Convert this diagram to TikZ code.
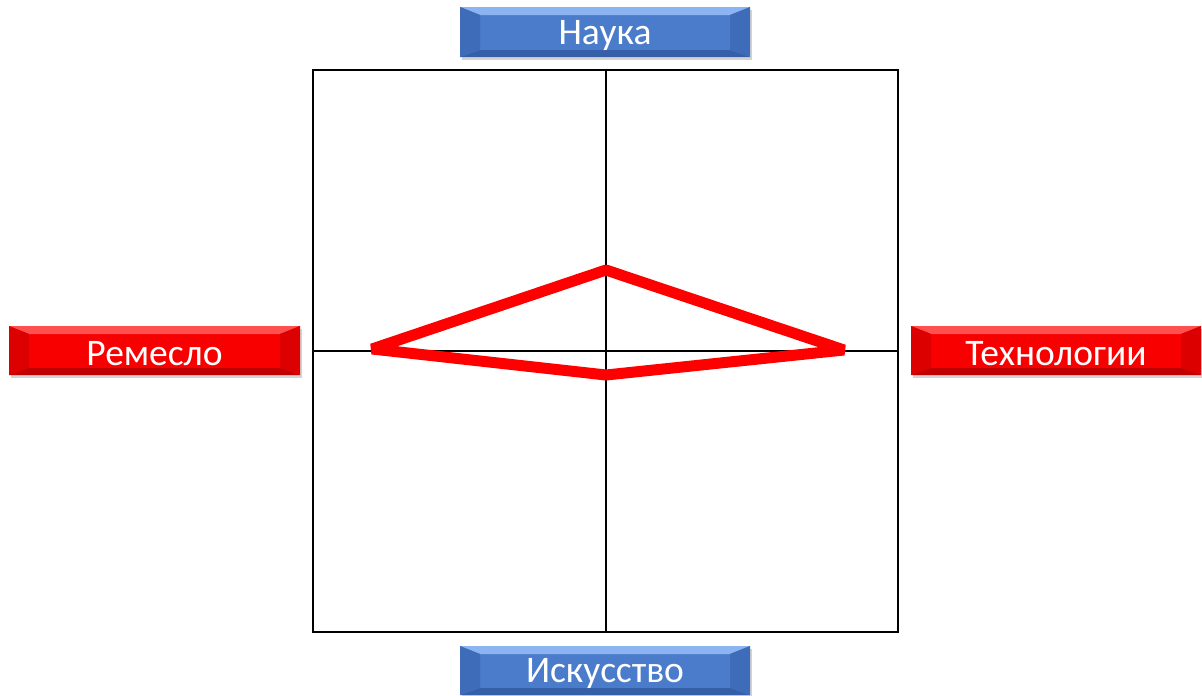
\documentclass[tikz,border=0pt]{standalone}
\usepackage{fontspec}
\setmainfont{Carlito}
\usetikzlibrary{shadows}
\definecolor{bface}{HTML}{4A7CCB}
\definecolor{btop}{HTML}{8CB4F2}
\definecolor{bside}{HTML}{3F6CB8}
\definecolor{bbot}{HTML}{3560A8}
\definecolor{rface}{HTML}{F80000}
\definecolor{rtop}{HTML}{FF5050}
\definecolor{rside}{HTML}{DC0000}
\definecolor{rbot}{HTML}{C00000}
\tikzset{
  gridline/.style={line width=2pt, black},
  redline/.style={line width=11pt, red, line join=bevel},
  lbl/.style={text=white, font=\fontsize{37.5}{42}\selectfont, inner sep=0pt},
}
% #1 name, #2 x1, #3 y1, #4 x2, #5 y2, #6 prefix (b or r), #7 text
\newcommand\bevbox[7]{%
  \fill[#6face, drop shadow={opacity=0.35, shadow xshift=2pt, shadow yshift=-3pt}] (#2,#3) rectangle (#4,#5);
  \fill[#6top] (#2,#3) -- (#4,#3) -- (#4-20,#3+8) -- (#2+20,#3+8) -- cycle;
  \fill[#6bot] (#2,#5) -- (#4,#5) -- (#4-20,#5-7) -- (#2+20,#5-7) -- cycle;
  \fill[#6side] (#2,#3) -- (#2+20,#3+8) -- (#2+20,#5-7) -- (#2,#5) -- cycle;
  \fill[#6side] (#4,#3) -- (#4-20,#3+8) -- (#4-20,#5-7) -- (#4,#5) -- cycle;
  \node[lbl] (#1) at ({(#2+#4)/2},{(#3+#5)/2+3}) {#7};
}
\begin{document}
\begin{tikzpicture}[x=1pt,y=-1pt]
\useasboundingbox (0,0) rectangle (1202,696);
% grid
\coordinate (tl) at (313,70);
\coordinate (br) at (898,632);
\coordinate (tm) at (606,70);
\coordinate (bm) at (606,632);
\coordinate (lm) at (313,351);
\coordinate (rm) at (898,351);
\draw[gridline] (tl) rectangle (br);
\draw[gridline] (tm) -- (bm);
\draw[gridline] (lm) -- (rm);
% red polygon
\coordinate (pl) at (372,349);
\coordinate (pt) at (606,270);
\coordinate (pr) at (844,350);
\coordinate (pb) at (606,375);
\draw[redline] (pl) -- (pt) -- (pr) -- (pb) -- cycle;
% labels
\bevbox{nauka}{460}{7}{750}{57}{b}{Наука}
\bevbox{remeslo}{9}{326}{300}{375}{r}{Ремесло}
\bevbox{tech}{911}{326}{1201}{375}{r}{Технологии}
\bevbox{isk}{460}{646}{750}{695}{b}{Искусство}
\end{tikzpicture}
\end{document}
